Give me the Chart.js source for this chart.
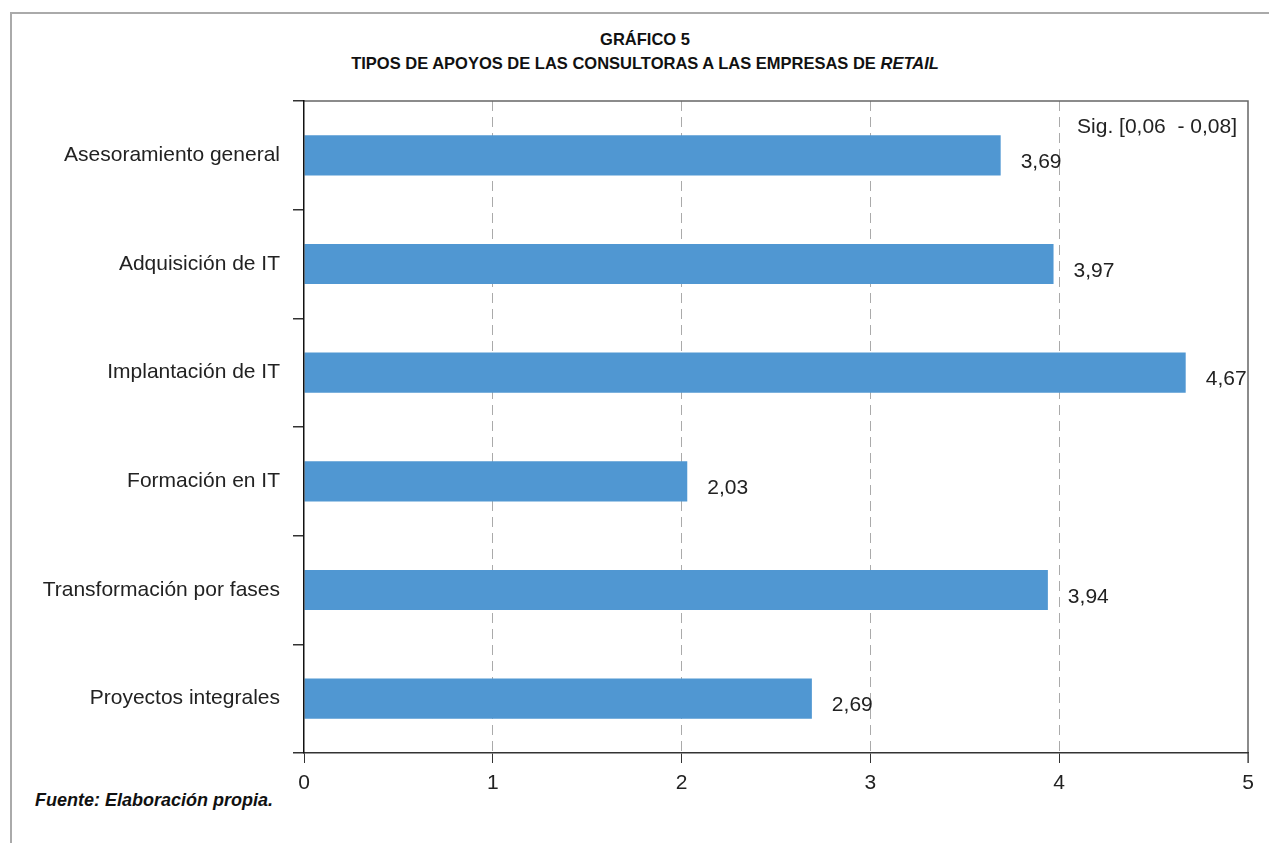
<!DOCTYPE html>
<html>
<head>
<meta charset="utf-8">
<script src="https://cdn.jsdelivr.net/npm/chart.js@4.4.0/dist/chart.umd.min.js"></script>
<style>
  body { margin: 0; background: #fff; font-family: "Liberation Sans", Arial, sans-serif; }
  #wrap { position: relative; width: 1269px; height: 843px; }
  #marco { position: absolute; left: 10px; top: 12px; width: 1300px; height: 900px;
           border-left: 2px solid #aaa; border-top: 2px solid #aaa; }
  .titulo { position: absolute; left: 0; width: 1290px; text-align: center;
            font-weight: bold; font-size: 16.5px; color: #111; }
  #fuente { position: absolute; left: 35px; top: 790px; font-weight: bold; font-style: italic;
            font-size: 18px; color: #111; }
  canvas { position: absolute; left: 0; top: 0; }
</style>
</head>
<body>
<div id="wrap">
  <div id="marco"></div>
  <div class="titulo" style="top:30px">GRÁFICO 5</div>
  <div class="titulo" style="top:54px">TIPOS DE APOYOS DE LAS CONSULTORAS A LAS EMPRESAS DE <i>RETAIL</i></div>
  <div id="fuente">Fuente: Elaboración propia.</div>
  <canvas id="grafico" width="1269" height="843"></canvas>
</div>
<script>
const categorias = [
  'Asesoramiento general',
  'Adquisición de IT',
  'Implantación de IT',
  'Formación en IT',
  'Transformación por fases',
  'Proyectos integrales'
];
const valores = [3.69, 3.97, 4.67, 2.03, 3.94, 2.69];
const ticksX = [0, 1, 2, 3, 4, 5];
const nota = 'Sig. [0,06  - 0,08]';

const fuente = '"Liberation Sans", Arial, sans-serif';

// etiquetas de valor, nota y marco superior/derecho
const extras = {
  id: 'extras',
  afterDatasetsDraw(chart) {
    const c = chart.ctx;
    const area = chart.chartArea;
    const meta = chart.getDatasetMeta(0);
    c.save();
    c.font = '21px ' + fuente;
    c.fillStyle = '#222';
    c.textBaseline = 'middle';
    c.textAlign = 'left';
    meta.data.forEach((barra, i) => {
      c.fillText(valores[i].toFixed(2).replace('.', ','), barra.x + 20, barra.y + 7);
    });
    c.textAlign = 'right';
    c.fillText(nota, area.right - 11, area.top + 26);

    c.strokeStyle = '#666';
    c.lineWidth = 1.5;
    c.beginPath();
    c.moveTo(area.left, area.top);
    c.lineTo(area.right, area.top);
    c.lineTo(area.right, area.bottom + 10);
    c.stroke();
    c.restore();
  }
};

const ctx = document.getElementById('grafico').getContext('2d');

const grafico = new Chart(ctx, {
  type: 'bar',
  data: {
    labels: categorias,
    datasets: [{
      data: valores,
      backgroundColor: '#5097d2',
      borderWidth: 0,
      categoryPercentage: 1,
      barPercentage: 0.37
    }]
  },
  options: {
    indexAxis: 'y',
    responsive: false,
    animation: false,
    layout: { padding: { top: 101, right: 21, left: 0, bottom: 0 } },
    plugins: {
      legend: { display: false },
      tooltip: { enabled: false }
    },
    scales: {
      x: {
        min: 0,
        max: 5,
        afterBuildTicks(s) { s.ticks = ticksX.map(v => ({ value: v })); },
        afterFit(s) { s.height = 90; },
        border: { display: true, color: '#333', width: 1.5, dash: [10, 6], z: 1 },
        grid: {
          drawTicks: true,
          tickLength: 10,
          tickBorderDash: [],
          tickColor: '#333',
          lineWidth: 1,
          color: (c) => (c.tick && c.tick.value > 0 && c.tick.value < 5) ? '#aaa' : 'rgba(0,0,0,0)'
        },
        ticks: {
          padding: 8,
          color: '#222',
          font: { family: fuente, size: 21 },
          callback: (v) => String(v)
        }
      },
      y: {
        afterFit(s) { s.width = 304; },
        border: { display: true, color: '#111', width: 1.5, z: 1 },
        grid: {
          offset: true,
          drawOnChartArea: false,
          drawTicks: true,
          tickLength: 11,
          tickColor: '#333',
          lineWidth: 1.5
        },
        ticks: {
          padding: 13,
          color: '#222',
          font: { family: fuente, size: 21 }
        }
      }
    }
  },
  plugins: [extras]
});
</script>
</body>
</html>
